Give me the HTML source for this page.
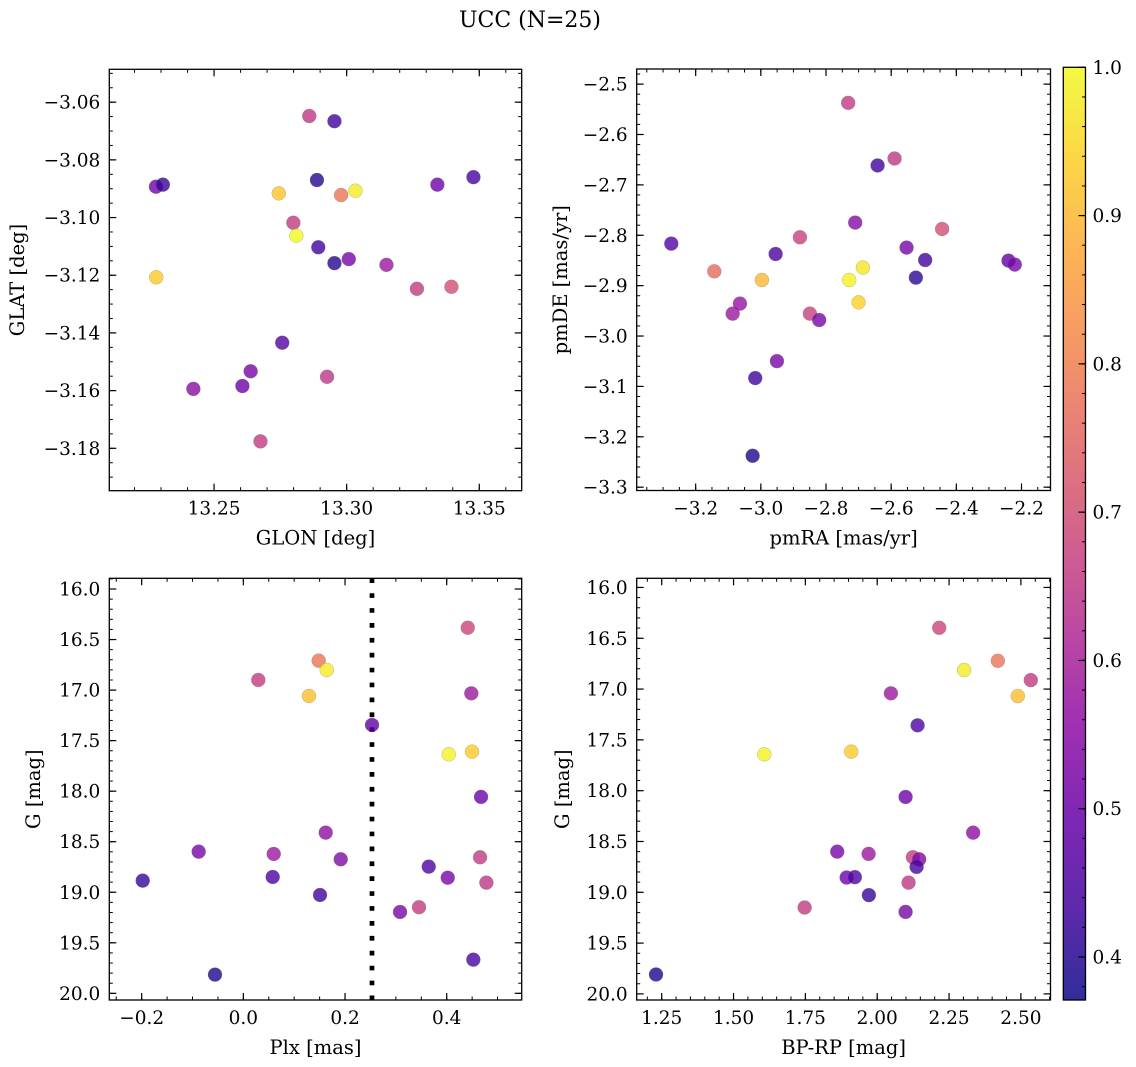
<!DOCTYPE html>
<html><head><meta charset="utf-8">
<style>
html,body{margin:0;padding:0;background:#fff;}
svg{display:block;font-family:"DejaVu Serif","Liberation Serif",serif;}
</style></head>
<body>
<svg id="fig" width="1136" height="1067" viewBox="0 0 1136 1067" xmlns="http://www.w3.org/2000/svg">
<text x="530" y="27" font-size="22" text-anchor="middle">UCC (N=25)</text>
</svg>
<script>
// ---- data ----
const glon = [13.2281,13.2307,13.2744,13.2859,13.2954,13.2888,13.2979,13.3033,13.3342,13.3478,13.2799,13.2810,13.2893,13.2954,13.3008,13.3150,13.2282,13.3265,13.3395,13.2757,13.2638,13.2607,13.2422,13.2926,13.2675];
const glat = [-3.0893,-3.0886,-3.0916,-3.0648,-3.0666,-3.0870,-3.0922,-3.0907,-3.0886,-3.0860,-3.1018,-3.1063,-3.1103,-3.1158,-3.1144,-3.1164,-3.1207,-3.1247,-3.1240,-3.1434,-3.1533,-3.1584,-3.1594,-3.1552,-3.1776];
const prob1 = [0.50,0.42,0.92,0.65,0.43,0.40,0.78,0.98,0.50,0.44,0.66,1.00,0.43,0.40,0.52,0.58,0.93,0.66,0.70,0.46,0.52,0.50,0.55,0.65,0.66];

const pmra = [-3.2748,-3.1429,-2.9966,-3.0865,-3.0641,-2.9546,-2.880,-2.8494,-2.8209,-2.9506,-3.0172,-3.0252,-2.7319,-2.6417,-2.5896,-2.7104,-2.7288,-2.6868,-2.70,-2.5528,-2.4957,-2.5242,-2.4436,-2.2399,-2.2206];
const pmde = [-2.8166,-2.8716,-2.8888,-2.9556,-2.9357,-2.8372,-2.804,-2.9556,-2.9683,-3.0498,-3.0835,-3.2377,-2.5372,-2.6615,-2.6476,-2.7748,-2.8888,-2.8642,-2.9331,-2.8245,-2.8491,-2.8841,-2.7875,-2.8503,-2.8582];
const prob2 = [0.46,0.76,0.90,0.58,0.57,0.45,0.67,0.67,0.52,0.52,0.43,0.39,0.66,0.43,0.65,0.54,0.99,0.97,0.94,0.52,0.43,0.41,0.70,0.48,0.52];

const plx = [-0.198,-0.0879,-0.0558,0.0294,0.1482,0.164,0.1291,0.0597,0.0577,0.162,0.1915,0.1508,0.2531,0.4414,0.4484,0.404,0.4498,0.4675,0.4656,0.3646,0.402,0.478,0.3082,0.3455,0.4524];
const gmag3 = [18.885,18.598,19.815,16.900,16.709,16.801,17.058,18.621,18.849,18.410,18.674,19.027,17.345,16.383,17.032,17.635,17.609,18.057,18.654,18.747,18.856,18.905,19.195,19.148,19.667];
const prob3 = [0.42,0.52,0.39,0.66,0.78,0.98,0.91,0.58,0.45,0.56,0.53,0.43,0.48,0.68,0.58,0.99,0.93,0.50,0.66,0.45,0.52,0.65,0.52,0.66,0.44];
const plxLine = [0.253];

const bprp = [1.2302,1.6069,1.9095,1.7474,1.8608,1.970,1.8935,1.9223,1.971,2.0476,2.1404,2.0987,2.1241,2.146,2.137,2.1091,2.0987,2.2156,2.3025,2.4197,2.5345,2.4893,2.3338];
const gmag4 = [19.809,17.642,17.616,19.150,18.600,18.622,18.855,18.851,19.028,17.042,17.357,18.062,18.655,18.675,18.750,18.905,19.193,16.397,16.813,16.722,16.912,17.069,18.413];
const prob4 = [0.39,0.99,0.93,0.66,0.52,0.58,0.50,0.45,0.42,0.58,0.45,0.50,0.66,0.53,0.44,0.65,0.52,0.68,0.98,0.78,0.66,0.91,0.56];

const ticks1x = [13.25,13.30,13.35], ticks1xLab = ["13.25","13.30","13.35"];
const ticks1y = [-3.06,-3.08,-3.10,-3.12,-3.14,-3.16,-3.18], ticks1yLab = ["−3.06","−3.08","−3.10","−3.12","−3.14","−3.16","−3.18"];
const ticks2x = [-3.2,-3.0,-2.8,-2.6,-2.4,-2.2], ticks2xLab = ["−3.2","−3.0","−2.8","−2.6","−2.4","−2.2"];
const ticks2y = [-2.5,-2.6,-2.7,-2.8,-2.9,-3.0,-3.1,-3.2,-3.3], ticks2yLab = ["−2.5","−2.6","−2.7","−2.8","−2.9","−3.0","−3.1","−3.2","−3.3"];
const ticks3x = [-0.2,0.0,0.2,0.4], ticks3xLab = ["−0.2","0.0","0.2","0.4"];
const ticksGy = [16.0,16.5,17.0,17.5,18.0,18.5,19.0,19.5,20.0], ticksGyLab = ["16.0","16.5","17.0","17.5","18.0","18.5","19.0","19.5","20.0"];
const ticks4x = [1.25,1.50,1.75,2.00,2.25,2.50], ticks4xLab = ["1.25","1.50","1.75","2.00","2.25","2.50"];
const cbTicks = [0.4,0.5,0.6,0.7,0.8,0.9,1.0], cbTickLab = ["0.4","0.5","0.6","0.7","0.8","0.9","1.0"];
const cMin = 0.371, cMax = 1.0;

// ---- helpers ----
const NS = "http://www.w3.org/2000/svg";
const svg = document.getElementById('fig');
function el(tag, attrs, parent){
  const e = document.createElementNS(NS, tag);
  for (const k in attrs) e.setAttribute(k, attrs[k]);
  (parent||svg).appendChild(e);
  return e;
}
const stops = [[13,8,135],[65,4,157],[106,0,168],[143,13,164],[177,42,144],[204,71,120],[225,100,98],[242,132,75],[252,166,54],[252,206,37],[240,249,33]];
function plasma(v){
  let t = (v - cMin)/(cMax - cMin); t = Math.max(0, Math.min(1, t));
  const f = t*10, i = Math.min(9, Math.floor(f)), r = f - i;
  const a = stops[i], b = stops[i+1];
  return 'rgb(' + [0,1,2].map(k => Math.round(a[k] + (b[k]-a[k])*r)).join(',') + ')';
}
function minorTicks(lo, hi, step){
  const out = []; const s = Math.ceil(lo/step - 1e-9);
  for (let k = s; k*step <= hi + 1e-9; k++) out.push(+(k*step).toFixed(6));
  return out;
}

function panel(cfg){
  const g = el('g', {});
  
  
  const {L,R,T,B,xmin,xmax,ymin,ymax} = cfg;
  const sx = v => L + (v - xmin)/(xmax - xmin)*(R - L);
  const sy = v => T + (v - ymax)/(ymin - ymax)*(B - T);
  minorTicks(xmin, xmax, cfg.xminor).forEach(v => {
    const x = sx(v);
    el('line', {x1:x, x2:x, y1:B, y2:B-3.5, stroke:'#000', 'stroke-width':1}, g);
    el('line', {x1:x, x2:x, y1:T, y2:T+3.5, stroke:'#000', 'stroke-width':1}, g);
  });
  minorTicks(Math.min(ymin,ymax), Math.max(ymin,ymax), cfg.yminor).forEach(v => {
    const y = sy(v);
    el('line', {x1:L, x2:L+3.5, y1:y, y2:y, stroke:'#000', 'stroke-width':1}, g);
    el('line', {x1:R, x2:R-3.5, y1:y, y2:y, stroke:'#000', 'stroke-width':1}, g);
  });
  cfg.xt.forEach((v,i) => {
    const x = sx(v);
    el('line', {x1:x, x2:x, y1:B, y2:B-7, stroke:'#000', 'stroke-width':1.2}, g);
    el('line', {x1:x, x2:x, y1:T, y2:T+7, stroke:'#000', 'stroke-width':1.2}, g);
    const t = el('text', {x:x, y:B+24, 'font-size':18.5, 'text-anchor':'middle'}, g);
    t.textContent = cfg.xl[i];
    
    
  });
  cfg.yt.forEach((v,i) => {
    const y = sy(v);
    el('line', {x1:L, x2:L+7, y1:y, y2:y, stroke:'#000', 'stroke-width':1.2}, g);
    el('line', {x1:R, x2:R-7, y1:y, y2:y, stroke:'#000', 'stroke-width':1.2}, g);
    const t = el('text', {x:L-9, y:y+6.5, 'font-size':18.5, 'text-anchor':'end'}, g);
    t.textContent = cfg.yl[i];
    
    
  });
  if (cfg.vline){
    cfg.vline.forEach(v => {
      const ln = el('line', {x1:sx(v), x2:sx(v), y1:T, y2:B, stroke:'#000', 'stroke-width':4.7, 'stroke-dasharray':'4.7 10.2'}, g);
      
      
    });
  }
  cfg.xs.forEach((xv,i) => {
    const c = el('circle', {cx:sx(xv), cy:sy(cfg.ys[i]), r:7, fill:plasma(cfg.cs[i]), 'fill-opacity':0.8, stroke:'#777', 'stroke-width':0.4, 'stroke-opacity':0.6}, g);
    
    
  });
  el('rect', {x:L, y:T, width:R-L, height:B-T, fill:'none', stroke:'#000', 'stroke-width':1.3}, g);
  const xl = el('text', {x:(L+R)/2, y:B+54, 'font-size':19.5, 'text-anchor':'middle'}, g);
  xl.textContent = cfg.xlab;
  
  
  const yl = el('text', {x:0, y:0, 'font-size':19.5, 'text-anchor':'middle', transform:`translate(${cfg.ylx},${(T+B)/2}) rotate(-90)`}, g);
  yl.textContent = cfg.ylab;
  
  
}

panel({name:'glon-glat-panel', L:109.3,R:521.7,T:69.3,B:490.7, xmin:13.2105,xmax:13.366, ymin:-3.1947,ymax:-3.0486,
  xminor:0.01, yminor:0.005, xt:ticks1x, xl:ticks1xLab, yt:ticks1y, yl:ticks1yLab,
  xs:glon, ys:glat, cs:prob1, xlab:'GLON [deg]', ylab:'GLAT [deg]', ylx:24});
panel({name:'pm-panel', L:636.7,R:1050.5,T:69,B:490.5, xmin:-3.381,xmax:-2.111, ymin:-3.3066,ymax:-2.470,
  xminor:0.05, yminor:0.02, xt:ticks2x, xl:ticks2xLab, yt:ticks2y, yl:ticks2yLab,
  xs:pmra, ys:pmde, cs:prob2, xlab:'pmRA [mas/yr]', ylab:'pmDE [mas/yr]', ylx:567});
panel({name:'plx-g-panel', L:109.3,R:521.7,T:578.3,B:1000, xmin:-0.2637,xmax:0.5475, ymin:20.066,ymax:15.894,
  xminor:0.05, yminor:0.1, xt:ticks3x, xl:ticks3xLab, yt:ticksGy, yl:ticksGyLab,
  xs:plx, ys:gmag3, cs:prob3, vline:plxLine, xlab:'Plx [mas]', ylab:'G [mag]', ylx:40});
panel({name:'cmd-panel', L:636.7,R:1050.5,T:578.3,B:1000, xmin:1.163,xmax:2.603, ymin:20.06,ymax:15.91,
  xminor:0.05, yminor:0.1, xt:ticks4x, xl:ticks4xLab, yt:ticksGy, yl:ticksGyLab,
  xs:bprp, ys:gmag4, cs:prob4, xlab:'BP-RP [mag]', ylab:'G [mag]', ylx:569});

// ---- colorbar ----
(function(){
  const L = 1063.3, R = 1085.5, T = 67.3, B = 1000;
  const g = el('g', {});
  
  
  const defs = el('defs', {}, g);
  const grad = el('linearGradient', {id:'cbg', x1:0, y1:1, x2:0, y2:0}, defs);
  for (let k = 0; k <= 20; k++){
    const v = cMin + (cMax - cMin)*k/20;
    el('stop', {offset:(k/20), 'stop-color':plasma(v), 'stop-opacity':0.85}, grad);
  }
  el('rect', {x:L, y:T, width:R-L, height:B-T, fill:'url(#cbg)'}, g);
  const sy = v => B - (v - cMin)/(cMax - cMin)*(B - T);
  minorTicks(cMin, cMax, 0.02).forEach(v => {
    el('line', {x1:R, x2:R-3.5, y1:sy(v), y2:sy(v), stroke:'#000', 'stroke-width':1}, g);
  });
  cbTicks.forEach((v,i) => {
    const y = sy(v);
    el('line', {x1:R, x2:R-7, y1:y, y2:y, stroke:'#000', 'stroke-width':1.2}, g);
    const t = el('text', {x:R+7, y:y+6.5, 'font-size':18.5}, g);
    t.textContent = cbTickLab[i];
    
    
  });
  el('rect', {x:L, y:T, width:R-L, height:B-T, fill:'none', stroke:'#000', 'stroke-width':1.3}, g);
})();
</script>
</body></html>
